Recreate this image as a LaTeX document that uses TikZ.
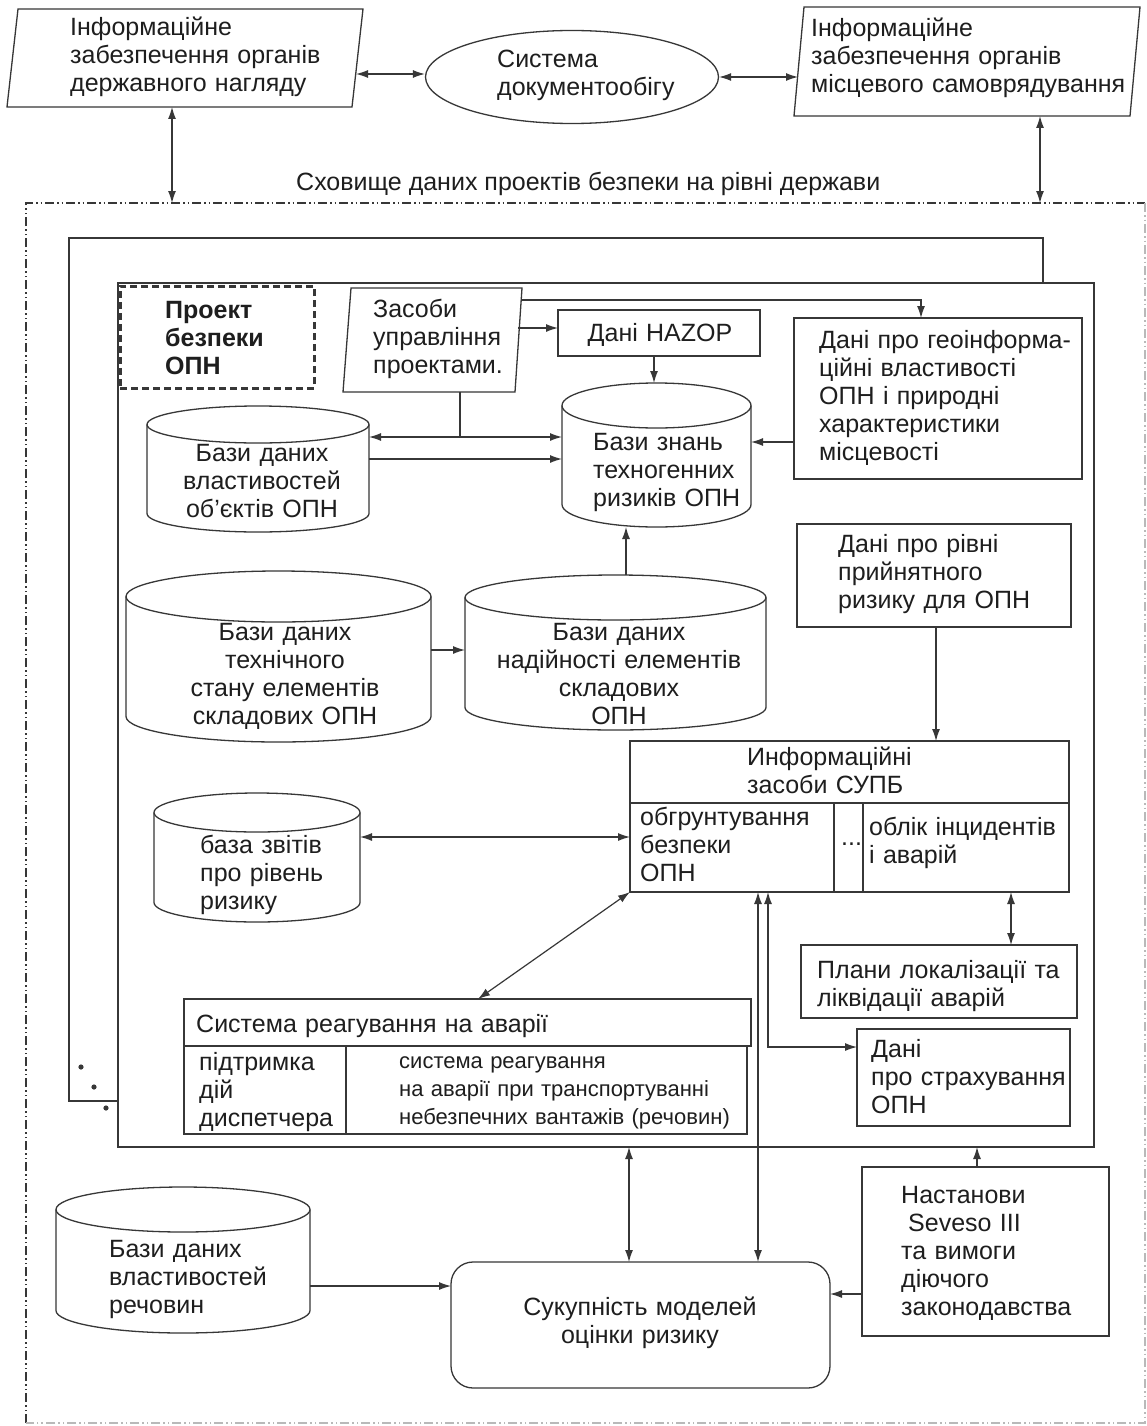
\documentclass[tikz,border=0pt]{standalone}
\usepackage{fontspec}
\setmainfont{Liberation Sans}
\usetikzlibrary{shapes.geometric,arrows.meta,calc}

\definecolor{lc}{RGB}{55,55,55}
\definecolor{tc}{RGB}{30,30,30}

\tikzset{
  ln/.style={draw=lc, line width=1.3pt},
  con/.style={draw=lc, line width=1.2pt},
  ar/.style={con, -{Latex[length=12pt,width=8pt]}},
  dar/.style={con, {Latex[length=12pt,width=8pt]}-{Latex[length=12pt,width=8pt]}},
  rect/.style={ln, inner sep=0, outer sep=0, anchor=north west},
  hidden/.style={inner sep=0, outer sep=0, anchor=north west},
  txt/.style={inner sep=0, text=tc, font=\fontsize{25}{28}\selectfont, align=left, text width=430pt, anchor=base west},
  ctxt/.style={inner sep=0, text=tc, font=\fontsize{25}{28}\selectfont, align=center, text width=380pt, anchor=base},
  line1/.style={inner sep=0, text=tc, font=\fontsize{25}{28}\selectfont, anchor=base west},
  dd/.style={line width=1.1pt, dash pattern=on 9pt off 3pt on 1.5pt off 3pt on 1.5pt off 3pt},
}

% box: name, x1, y1, x2, y2
\newcommand\boxat[6][]{\node[rect,#1,minimum width={#5-#3},minimum height={#6-#4}] (#2) at (#3,#4) {};}
% invisible frame: name, x1, y1, x2, y2
\newcommand\areaat[5]{\node[hidden,minimum width={#4-#2},minimum height={#5-#3}] (#1) at (#2,#3) {};}
% database cylinder: name, x1, y1, x2, y2, radius of the end ellipses
\newcommand\dbcyl[6]{%
  \areaat{#1}{#2}{#3}{#4}{#5}%
  \pgfmathsetmacro\cylrx{(#4-#2)/2}%
  \draw[ln] ({(#2+#4)/2},{#3+#6}) ellipse [x radius=\cylrx pt, y radius=#6pt];
  \draw[ln] (#2,{#3+#6}) -- (#2,{#5-#6}) arc[start angle=180,end angle=360,x radius=\cylrx pt,y radius=#6pt] -- (#4,{#3+#6});
}

\begin{document}
\begin{tikzpicture}[x=1pt,y=-1pt]
\useasboundingbox (0,0) rectangle (1147,1426);
\fill[white] (0,0) rectangle (1147,1426);

% ---------- state level ----------
\areaat{lp}{7}{9}{363}{107}
\draw[ln] (18,9) -- (363,9) -- (352,107) -- (7,107) -- cycle;
\node[txt] at (70,36) {Інформаційне\\забезпечення органів\\державного нагляду};

\node[ln, ellipse, inner sep=0, minimum width=293, minimum height=93] (ell) at (572,77) {};
\node[txt] at (497,68) {Система\\документообігу};

\areaat{rp}{794}{7}{1140}{116}
\draw[ln] (804,7) -- (1140,7) -- (1130,116) -- (794,116) -- cycle;
\node[txt] at (811,37) {Інформаційне\\забезпечення органів\\місцевого самоврядування};

\node[line1] at (296,190) {Сховище даних проектів безпеки на рівні держави};

% data store frame
\areaat{store}{26}{203}{1145}{1423}
\draw[dd, lc] (store.south west) -- (store.north west) -- (store.north east);
\draw[dd, lc!35] (store.north east) -- (store.south east) -- (store.south west);

% stacked project frames
\boxat{back}{69}{238}{1043}{1101}
\boxat[fill=white]{front}{118}{283}{1094}{1147}
\fill[lc] (81,1067) circle (2.6) (94,1087) circle (2.6) (106,1108) circle (2.6);

\boxat[line width=3pt, dash pattern=on 7pt off 4pt]{proj}{120}{286}{314}{388}
\node[txt, font=\bfseries\fontsize{25}{28}\selectfont] at (165,318) {Проект\\безпеки\\ОПН};

% project management tools
\areaat{zas}{343}{288}{522}{392}
\draw[ln] (351,288) -- (522,288) -- (515,392) -- (343,392) -- cycle;
\node[txt] at (373,317) {Засоби\\управління\\проектами.};

\boxat{hz}{558}{310}{760}{356}
\node[ctxt] at (660,341) {Дані HAZOP};

\boxat{geo}{794}{318}{1082}{479}
\node[txt] at (819,348) {Дані про геоінформа-\\ційні властивості\\ОПН і природні\\характеристики\\місцевості};

\dbcyl{kb}{562}{383}{751}{527}{22.5}
\node[txt] at (593,450) {Бази знань\\техногенних\\ризиків ОПН};

\dbcyl{db1}{147}{406}{369}{532}{18.5}
\node[ctxt] at (262,461) {Бази даних\\властивостей\\об’єктів ОПН};

\dbcyl{tech}{126}{571}{431}{742}{25.5}
\node[ctxt] at (285,640) {Бази даних\\технічного\\стану елементів\\складових ОПН};

\dbcyl{rel}{465}{575}{766}{730}{22.5}
\node[ctxt] at (619,640) {Бази даних\\надійності елементів\\складових\\ОПН};

\boxat{lev}{797}{524}{1071}{627}
\node[txt] at (838,552) {Дані про рівні\\прийнятного\\ризику для ОПН};

% safety management information tools
\boxat{supb}{630}{741}{1069}{892}
\draw[ln] (supb.west |- 0,803) -- (supb.east |- 0,803);
\draw[ln] (834,803) -- (834,892) (863,803) -- (863,892);
\node[txt] at (747,765) {Информаційні\\засоби СУПБ};
\node[txt] at (640,825) {обгрунтування\\безпеки\\ОПН};
\node[txt] at (841,845) {...};
\node[txt] at (869,835) {облік інцидентів\\і аварій};

\dbcyl{rep}{154}{793}{360}{922}{19.5}
\node[txt] at (200,853) {база звітів\\про рівень\\ризику};

% emergency response system
\boxat{srs}{184}{999}{751}{1046}
\boxat{srsb}{184}{1046}{747}{1134}
\draw[ln] (346,1046) -- (346,1134);
\node[txt] at (196,1032) {Система реагування на аварії};
\node[txt] at (199,1070) {підтримка\\дій\\диспетчера};
\node[txt, font=\fontsize{22}{28}\selectfont] at (399,1068) {система реагування\\на аварії при транспортуванні\\небезпечних вантажів (речовин)};

\boxat{plans}{801}{945}{1077}{1018}
\node[txt] at (817,978) {Плани локалізації та\\ліквідації аварій};

\boxat{ins}{857}{1029}{1070}{1126}
\node[txt] at (871,1057) {Дані\\про страхування\\ОПН};

% outside the project
\dbcyl{subst}{56}{1187}{310}{1333}{22.5}
\node[txt] at (109,1257) {Бази даних\\властивостей\\речовин};

\boxat[rounded corners=22pt]{suk}{451}{1262}{830}{1388}
\node[ctxt] at (640,1315) {Сукупність моделей\\оцінки ризику};

\boxat{nast}{862}{1167}{1109}{1336}
\node[txt] at (901,1203) {Настанови\\\hspace*{7pt}Seveso III\\та вимоги\\діючого\\законодавства};

% ---------- connectors ----------
\coordinate (lpR) at (356,74);
\coordinate (rpL) at (798,77);
\coordinate (xa) at (172,0);
\coordinate (xb) at (1040,0);
\coordinate (zasR) at (521,300);
\coordinate (zasM) at (518,328);
\coordinate (xgeo) at (921,0);
\coordinate (xhz) at (654,0);
\coordinate (y442) at (0,442);
\coordinate (xzas) at (460,0);
\coordinate (y437) at (0,437);
\coordinate (y459) at (0,459);
\coordinate (y650) at (0,650);
\coordinate (xrel) at (626,0);
\coordinate (xlev) at (936,0);
\coordinate (y837) at (0,837);
\coordinate (srsT) at (478,999);
\coordinate (x758) at (758,0);
\coordinate (x768) at (768,0);
\coordinate (y1047) at (0,1047);
\coordinate (x1011) at (1011,0);
\coordinate (x629) at (629,0);
\coordinate (x977) at (977,0);
\coordinate (y1294) at (0,1294);
\coordinate (y1286) at (0,1286);

\draw[dar] (lpR) -- (lpR -| ell.west);
\draw[dar] (ell.east) -- (ell.east -| rpL);
\draw[dar] (lp.south -| xa) -- (store.north -| xa);
\draw[dar] (rp.south -| xb) -- (store.north -| xb);

\draw[ar] (zasR) -- (zasR -| xgeo) -- (geo.north -| xgeo);
\draw[ar] (zasM) -- (zasM -| hz.west);
\draw[ar] (hz.south -| xhz) -- (kb.north -| xhz);
\draw[ar] (geo.west |- y442) -- (kb.east |- y442);
\draw[con] (zas.south -| xzas) -- (xzas |- y437);
\draw[dar] (db1.east |- y437) -- (kb.west |- y437);
\draw[ar] (db1.east |- y459) -- (kb.west |- y459);
\draw[ar] (tech.east |- y650) -- (rel.west |- y650);
\draw[ar] (rel.north -| xrel) -- (kb.south -| xrel);
\draw[ar] (lev.south -| xlev) -- (supb.north -| xlev);
\draw[dar] (rep.east |- y837) -- (supb.west |- y837);
\draw[dar] (supb.south west) -- (srsT);
\draw[dar] (supb.south -| x758) -- (suk.north -| x758);
\draw[dar] (supb.south -| x768) |- (ins.west |- y1047);
\draw[dar] (supb.south -| x1011) -- (plans.north -| x1011);
\draw[dar] (front.south -| x629) -- (suk.north -| x629);
\draw[ar] (nast.north -| x977) -- (front.south -| x977);
\draw[ar] (nast.west |- y1294) -- (suk.east |- y1294);
\draw[ar] (subst.east |- y1286) -- (suk.west |- y1286);
\end{tikzpicture}
\end{document}
